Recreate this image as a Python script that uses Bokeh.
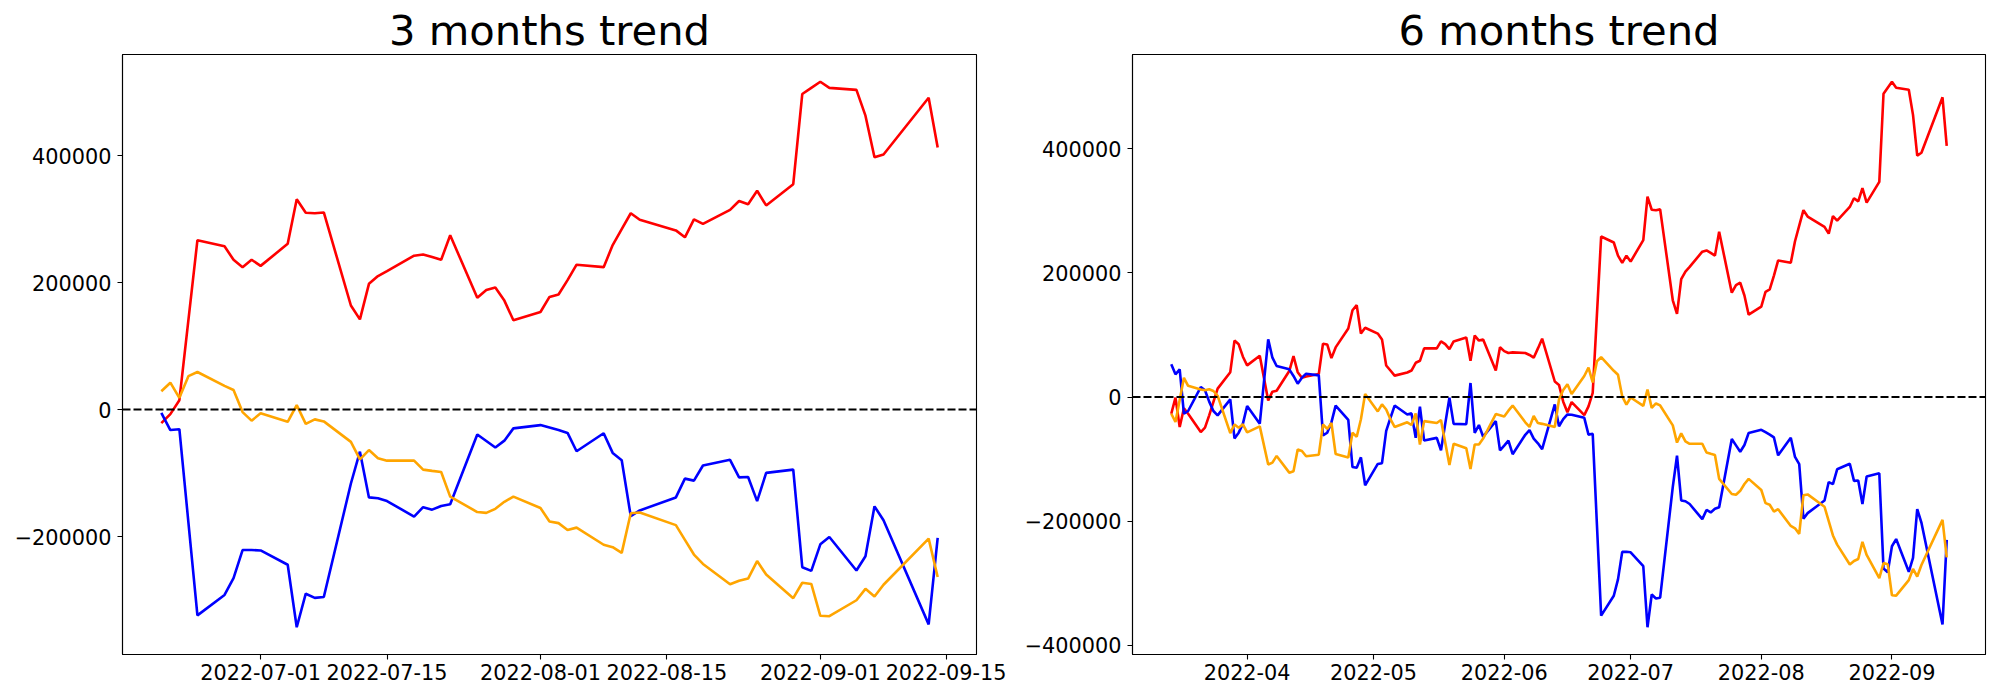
import pandas as pd
from bokeh.plotting import figure
from bokeh.models import Range1d, FixedTicker, DatetimeTickFormatter, Span
from bokeh.layouts import row
from bokeh.embed import file_html
from bokeh.resources import INLINE

# ---------------- 3 months data ----------------
dates_3m = [
    "2022-06-20", "2022-06-21", "2022-06-22", "2022-06-23", "2022-06-24",
    "2022-06-27", "2022-06-28", "2022-06-29", "2022-06-30", "2022-07-01",
    "2022-07-04", "2022-07-05", "2022-07-06", "2022-07-07", "2022-07-08",
    "2022-07-11", "2022-07-12", "2022-07-13", "2022-07-14", "2022-07-15",
    "2022-07-18", "2022-07-19", "2022-07-20", "2022-07-21", "2022-07-22",
    "2022-07-25", "2022-07-26", "2022-07-27", "2022-07-28", "2022-07-29",
    "2022-08-01", "2022-08-02", "2022-08-03", "2022-08-04", "2022-08-05",
    "2022-08-08", "2022-08-09", "2022-08-10", "2022-08-11", "2022-08-12",
    "2022-08-16", "2022-08-17", "2022-08-18", "2022-08-19",
    "2022-08-22", "2022-08-23", "2022-08-24", "2022-08-25", "2022-08-26",
    "2022-08-29", "2022-08-30", "2022-08-31", "2022-09-01", "2022-09-02",
    "2022-09-05", "2022-09-06", "2022-09-07", "2022-09-08",
    "2022-09-13", "2022-09-14",
]
red_3m = [
    -21200, -7100, 14800, 140800, 266900, 257200, 236000, 224400, 236000, 226400,
    261100, 331200, 310000, 309300, 310600, 164000, 142100, 198100, 210300, 218000,
    242400, 244400, 240500, 236000, 274600, 176200, 188400, 192300, 171700, 140800,
    153700, 177500, 181400, 203900, 228300, 224400, 259200, 284300, 309300, 299000,
    282300, 271400, 299700, 292600, 314500, 328600, 323500, 344700, 321600, 355000,
    497100, 506800, 516400, 506800, 503600, 463000, 397400, 401900, 491300, 412900,
]
blue_3m = [
    -5100, -32200, -30900, -177500, -324100, -292000, -265600, -221200, -221200, -221900,
    -244400, -342800, -290000, -296500, -295200, -116400, -66200, -138300, -139600, -144100,
    -168500, -153700, -157600, -151800, -149200, -39200, -49500, -59800, -48900, -29600,
    -24400, -28300, -32200, -36700, -65600, -37300, -68200, -79700, -167800, -158800,
    -138300, -108700, -111900, -88100, -79100, -106800, -106100, -144100, -99700, -94500,
    -248200, -254000, -212200, -200600, -253400, -230900, -152400, -174300, -338300, -201900,
]
orange_3m = [
    28900, 42400, 18600, 52700, 59200, 37300, 30900, -3900, -17400, -5800,
    -19300, 7100, -22500, -15400, -18600, -50800, -78500, -63700, -76500, -80400,
    -80400, -94500, -96500, -98400, -137000, -161400, -162700, -156300, -145300, -137000,
    -155000, -176200, -178800, -189700, -185900, -212900, -216700, -225700, -163300, -162100,
    -182000, -205100, -228300, -243100, -275200, -269500, -266200, -238600, -259800, -297100,
    -272700, -274600, -324800, -325400, -300300, -282300, -294500, -275900, -203200, -263700,
]
xticks_3m = ["2022-07-01", "2022-07-15", "2022-08-01", "2022-08-15", "2022-09-01", "2022-09-15"]
yticks_3m = [-200000, 0, 200000, 400000]

# ---------------- 6 months data ----------------
dates_6m = [
    "2022-03-14", "2022-03-15", "2022-03-16", "2022-03-17", "2022-03-18",
    "2022-03-21", "2022-03-22", "2022-03-23", "2022-03-24", "2022-03-25",
    "2022-03-28", "2022-03-29", "2022-03-30", "2022-03-31", "2022-04-01",
    "2022-04-04", "2022-04-06", "2022-04-07", "2022-04-08",
    "2022-04-11", "2022-04-12", "2022-04-13", "2022-04-14", "2022-04-15",
    "2022-04-18", "2022-04-19", "2022-04-20", "2022-04-21", "2022-04-22",
    "2022-04-25", "2022-04-26", "2022-04-27", "2022-04-28", "2022-04-29",
    "2022-05-02", "2022-05-03", "2022-05-04", "2022-05-05", "2022-05-06",
    "2022-05-09", "2022-05-10", "2022-05-11", "2022-05-12", "2022-05-13",
    "2022-05-16", "2022-05-17", "2022-05-18", "2022-05-19", "2022-05-20",
    "2022-05-23", "2022-05-24", "2022-05-25", "2022-05-26", "2022-05-27",
    "2022-05-30", "2022-05-31", "2022-06-01", "2022-06-02", "2022-06-03",
    "2022-06-06", "2022-06-07", "2022-06-08", "2022-06-09", "2022-06-10",
    "2022-06-13", "2022-06-14", "2022-06-15", "2022-06-16", "2022-06-17",
] + dates_3m
red_6m = [
    -27000, -1000, -48500, -18000, -27000,
    -56500, -49500, -29600, -8000, 13500,
    40000, 91000, 85000, 65000, 51000,
    66500, -5500, 8600, 10000,
    41900, 66100, 40000, 31000, 33000,
    37000, 86000, 84700, 62700, 80000,
    110500, 139900, 148100, 102300, 111700,
    102300, 92900, 50800, 42700, 34500,
    39500, 42700, 55200, 58400, 78400,
    78400, 89700, 85300, 77200, 89700,
    96000, 58400, 99100, 91000, 92900,
    42700, 80300, 74000, 70900, 72000,
    70900, 67800, 63400, 78400, 94100,
    25000, 19500, -7500, -24500, -8200,
    -29200, -15100, 6800, 132800, 258900, 249200, 228000, 216400, 228000, 218400,
    253100, 323200, 302000, 301300, 302600, 156000, 134100, 190100, 202300, 210000,
    234400, 236400, 232500, 228000, 266600, 168200, 180400, 184300, 163700, 132800,
    145700, 169500, 173400, 195900, 220300, 216400, 251200, 276300, 301300, 291000,
    274300, 263400, 291700, 284600, 306500, 320600, 315500, 336700, 313600, 347000,
    489100, 498800, 508400, 498800, 495600, 455000, 389400, 393900, 483300, 404900,
]
blue_6m = [
    52700, 36600, 44600, -26900, -22600,
    16100, 10800, -7500, -22600, -29600,
    -3800, -66700, -57500, -43000, -14500,
    -43000, 93000, 63400, 50000,
    44600, 33900, 21500, 31200, 37600,
    34900, -62000, -57600, -41000, -14000,
    -37000, -113000, -114200, -97300, -142400,
    -107900, -106700, -54600, -33900, -13800,
    -28200, -26400, -65900, -15700, -70300,
    -65900, -86000, -43300, -1300, -43300,
    -43900, 22600, -57700, -45200, -64000,
    -38900, -86000, -78400, -70300, -92300,
    -60900, -53300, -67100, -74700, -84100,
    -11900, -47100, -35800, -28200, -28500,
    -33600, -60700, -59400, -206000, -352600, -320500, -294100, -249700, -249700, -250400,
    -272900, -371300, -318500, -325000, -323700, -144900, -94700, -166800, -168100, -172600,
    -197000, -182200, -186100, -180300, -177700, -67700, -78000, -88300, -77400, -58100,
    -52900, -56800, -60700, -65200, -94100, -65800, -96700, -108200, -196300, -187300,
    -166800, -137200, -140400, -116600, -107600, -135300, -134600, -172600, -128200, -123000,
    -276700, -282500, -240700, -229100, -281900, -259400, -180900, -202800, -366800, -230400,
]
orange_6m = [
    -27000, -40200, -5000, 31000, 18000,
    12200, 10800, 12400, 9700, 2000,
    -58200, -44300, -49500, -44100, -57000,
    -47400, -108900, -105900, -95000,
    -122000, -119600, -84800, -87100, -95600,
    -93000, -44300, -51500, -42000, -92000,
    -97500, -57700, -64000, -35800, 5000,
    -23200, -11900, -20100, -35800, -48300,
    -40800, -45200, -26400, -76600, -38900,
    -42000, -37000, -73400, -109800, -75300,
    -82800, -116100, -76600, -76600, -67100,
    -27600, -29500, -31400, -22000, -13800,
    -40800, -48300, -30700, -42000, -43300,
    -48300, -4000, 11300, 20700, 5000,
    33900, 47400, 23600, 57700, 64200, 42300, 35900, 1100, -12400, -800,
    -14300, 12100, -17500, -10400, -13600, -45800, -73500, -58700, -71500, -75400,
    -75400, -89500, -91500, -93400, -132000, -156400, -157700, -151300, -140300, -132000,
    -150000, -171200, -173800, -184700, -180900, -207900, -211700, -220700, -158300, -157100,
    -177000, -200100, -223300, -238100, -270200, -264500, -261200, -233600, -254800, -292100,
    -267700, -269600, -319800, -320400, -295300, -277300, -289500, -270900, -198200, -258700,
]
xticks_6m = ["2022-04-01", "2022-05-01", "2022-06-01", "2022-07-01", "2022-08-01", "2022-09-01"]
yticks_6m = [-400000, -200000, 0, 200000, 400000]

FONT = "DejaVu Sans"
TICK_SIZE = "20.8px"
TITLE_SIZE = "41.7px"


def make_chart(title, dates, red, blue, orange, xticks, xfmt, yticks,
               width, border_left, border_right):
    x = pd.to_datetime(dates)
    xs = x.astype("int64") // 10**6
    xmin, xmax = float(xs.min()), float(xs.max())
    xpad = 0.05 * (xmax - xmin)
    allv = red + blue + orange
    ymin, ymax = min(allv), max(allv)
    ypad = 0.05 * (ymax - ymin)

    p = figure(width=width, height=694, x_axis_type="datetime",
               output_backend="svg", toolbar_location=None,
               x_range=Range1d(xmin - xpad, xmax + xpad),
               y_range=Range1d(ymin - ypad, ymax + ypad),
               min_border_left=border_left, min_border_right=border_right,
               min_border_top=54, min_border_bottom=40,
               title=title)
    p.title.align = "center"
    p.title.text_font = FONT
    p.title.text_font_size = TITLE_SIZE
    p.title.text_font_style = "normal"
    p.title.text_color = "black"
    p.title.standoff = 0
    p.title.offset = 0

    p.background_fill_color = "white"
    p.border_fill_color = "white"
    p.outline_line_color = "black"
    p.outline_line_width = 1.1
    p.xgrid.visible = False
    p.ygrid.visible = False

    p.line(x, red, color="#ff0000", line_width=2.6)
    p.line(x, blue, color="#0000ff", line_width=2.6)
    p.line(x, orange, color="#ffa500", line_width=2.6)

    p.add_layout(Span(location=0, dimension="width", line_color="black",
                      line_width=2, line_dash="8 3"))

    tick_ms = [float(v) for v in (pd.to_datetime(xticks).astype("int64") // 10**6)]
    p.xaxis.ticker = FixedTicker(ticks=tick_ms)
    p.xaxis.formatter = DatetimeTickFormatter(
        milliseconds=xfmt, seconds=xfmt, minsec=xfmt, minutes=xfmt,
        hourmin=xfmt, hours=xfmt, days=xfmt, months=xfmt, years=xfmt)
    p.yaxis.ticker = FixedTicker(ticks=yticks)
    p.yaxis.major_label_overrides = {
        v: (str(v).replace("-", "\u2212")) for v in yticks}

    for ax in (p.xaxis[0], p.yaxis[0]):
        ax.axis_line_color = "black"
        ax.axis_line_width = 1.1
        ax.major_tick_line_color = "black"
        ax.major_tick_line_width = 1.1
        ax.major_tick_out = 5
        ax.major_tick_in = 0
        ax.minor_tick_line_color = None
        ax.major_label_text_font = FONT
        ax.major_label_text_font_size = TICK_SIZE
        ax.major_label_text_color = "black"
    p.xaxis.major_label_standoff = 4
    p.yaxis.major_label_standoff = 6
    return p


p1 = make_chart("3 months trend", dates_3m, red_3m, blue_3m, orange_3m,
                xticks_3m, "%Y-%m-%d", yticks_3m, 1006, 122, 30)
p2 = make_chart("6 months trend", dates_6m, red_6m, blue_6m, orange_6m,
                xticks_6m, "%Y-%m", yticks_6m, 989, 126, 10)

layout = row(p1, p2)
open("out.html", "w").write(file_html(layout, INLINE))
